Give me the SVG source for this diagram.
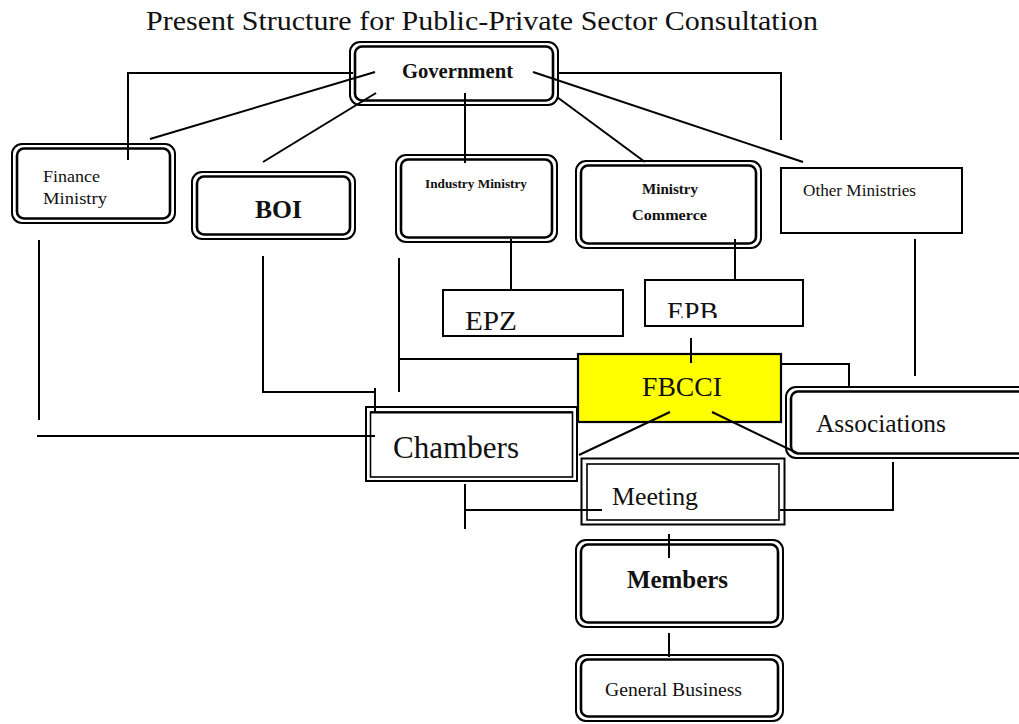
<svg xmlns="http://www.w3.org/2000/svg" width="1019" height="724" viewBox="0 0 1019 724">
<defs>
<style>
.bg{fill:#fff}
.o{fill:#fff;stroke:#000;stroke-width:2}
.i{fill:none;stroke:#000;stroke-width:2.6}
.thin{fill:none;stroke:#000;stroke-width:1.6}
.box{fill:#fff;stroke:#000;stroke-width:2}
.fb{fill:#ffff00;stroke:#000;stroke-width:2.2}
.c{fill:none;stroke:#000;stroke-width:2}
.t{font-family:"Liberation Serif","Times New Roman",serif;fill:#111}
.b{font-weight:bold}
</style>
<clipPath id="epbclip"><rect x="646" y="281" width="156" height="37"/></clipPath>
</defs>
<rect class="bg" x="0" y="0" width="1019" height="724"/>
<text class="t" x="146" y="30" font-size="27" textLength="672" lengthAdjust="spacingAndGlyphs">Present Structure for Public-Private Sector Consultation</text>

<g id="government">
<rect class="o" x="350" y="42" width="208" height="63" rx="10"/>
<rect class="i" x="355" y="46.5" width="198" height="54" rx="7"/>
<text class="t b" x="402" y="78" font-size="20" textLength="111" lengthAdjust="spacingAndGlyphs">Government</text>
</g>

<g id="finance-ministry">
<rect class="o" x="12" y="144" width="163" height="79" rx="10"/>
<rect class="i" x="17" y="148.5" width="153" height="70" rx="7"/>
<text class="t" x="43" y="182" font-size="17" textLength="57" lengthAdjust="spacingAndGlyphs">Finance</text>
<text class="t" x="43" y="204" font-size="17" textLength="64" lengthAdjust="spacingAndGlyphs">Ministry</text>
</g>

<g id="boi">
<rect class="o" x="192" y="172" width="163" height="67" rx="10"/>
<rect class="i" x="197" y="176.5" width="153" height="58" rx="7"/>
<text class="t b" x="255" y="218" font-size="25" textLength="47" lengthAdjust="spacingAndGlyphs">BOI</text>
</g>

<g id="industry-ministry">
<rect class="o" x="396" y="155" width="161" height="87" rx="10"/>
<rect class="i" x="401" y="159.5" width="151" height="78" rx="7"/>
<text class="t b" x="425" y="188" font-size="13" textLength="102" lengthAdjust="spacingAndGlyphs">Industry Ministry</text>
</g>

<g id="ministry-commerce">
<rect class="o" x="576" y="161" width="185" height="87" rx="10"/>
<rect class="i" x="581" y="165.5" width="175" height="78" rx="7"/>
<text class="t b" x="642" y="194" font-size="15" textLength="56" lengthAdjust="spacingAndGlyphs">Ministry</text>
<text class="t b" x="632" y="220" font-size="15.5" textLength="75" lengthAdjust="spacingAndGlyphs">Commerce</text>
</g>

<g id="other-ministries">
<rect class="box" x="781" y="168" width="181" height="65"/>
<text class="t" x="803" y="196" font-size="16" textLength="113" lengthAdjust="spacingAndGlyphs">Other Ministries</text>
</g>

<g id="epz">
<rect class="box" x="443" y="290" width="180" height="46"/>
<text class="t" x="465" y="330" font-size="27" textLength="52" lengthAdjust="spacingAndGlyphs">EPZ</text>
</g>

<g id="epb">
<rect class="box" x="645" y="280" width="158" height="46"/>
<text class="t" x="667" y="321" font-size="27" textLength="51" lengthAdjust="spacingAndGlyphs" clip-path="url(#epbclip)">EPB</text>
</g>

<g id="fbcci">
<rect class="fb" x="578" y="354" width="203" height="68"/>
<text class="t" x="642" y="396" font-size="28" textLength="80" lengthAdjust="spacingAndGlyphs">FBCCI</text>
</g>

<g id="chambers">
<rect class="o" x="366" y="407" width="211" height="74" stroke-width="1.6"/>
<rect class="thin" x="370.5" y="412" width="202" height="65"/>
<line class="c" x1="370.5" y1="412.5" x2="572.5" y2="412.5" stroke-width="3"/>
<text class="t" x="393" y="458" font-size="31" textLength="126" lengthAdjust="spacingAndGlyphs">Chambers</text>
</g>

<g id="associations">
<rect class="o" x="786" y="387" width="245" height="71" rx="10"/>
<rect class="i" x="791" y="391.5" width="235" height="62" rx="7"/>
<text class="t" x="816" y="432" font-size="25" textLength="130" lengthAdjust="spacingAndGlyphs">Associations</text>
</g>

<g id="meeting">
<rect class="o" x="581.5" y="458.5" width="203" height="66" stroke-width="3.2"/>
<rect class="thin" x="587" y="464" width="192" height="56"/>
<text class="t" x="612" y="505" font-size="25" textLength="86" lengthAdjust="spacingAndGlyphs">Meeting</text>
</g>

<g id="members">
<rect class="o" x="576" y="540" width="207" height="87" rx="10"/>
<rect class="i" x="581" y="544.5" width="197" height="78" rx="7"/>
<text class="t b" x="627" y="588" font-size="25" textLength="101" lengthAdjust="spacingAndGlyphs">Members</text>
</g>

<g id="general-business">
<rect class="o" x="576" y="655" width="207" height="66" rx="10"/>
<rect class="i" x="581" y="659.5" width="197" height="57" rx="7"/>
<text class="t" x="605" y="696" font-size="19.5" textLength="137" lengthAdjust="spacingAndGlyphs">General Business</text>
</g>

<g id="connectors">
<polyline class="c" points="353,73 128,73 128,160"/>
<line class="c" x1="375" y1="72" x2="150" y2="139"/>
<line class="c" x1="376" y1="93" x2="263" y2="162"/>
<line class="c" x1="465" y1="93" x2="465" y2="163"/>
<line class="c" x1="557" y1="97" x2="645" y2="162"/>
<line class="c" x1="533" y1="72" x2="803" y2="162"/>
<polyline class="c" points="557,73 781,73 781,140"/>
<line class="c" x1="39" y1="240" x2="39" y2="420"/>
<line class="c" x1="37" y1="436" x2="375" y2="436"/>
<polyline class="c" points="263,256 263,392 375,392"/>
<line class="c" x1="375" y1="388" x2="375" y2="412"/>
<line class="c" x1="399" y1="258" x2="399" y2="392"/>
<line class="c" x1="399" y1="359" x2="578" y2="359"/>
<line class="c" x1="511" y1="239" x2="511" y2="290"/>
<line class="c" x1="735" y1="239" x2="735" y2="280"/>
<line class="c" x1="691" y1="338" x2="691" y2="363"/>
<line class="c" x1="915" y1="239" x2="915" y2="376"/>
<polyline class="c" points="781,364 849,364 849,387"/>
<line class="c" x1="670" y1="412" x2="579" y2="455"/>
<line class="c" x1="712" y1="412" x2="797" y2="453"/>
<line class="c" x1="465" y1="484" x2="465" y2="529"/>
<line class="c" x1="465" y1="510" x2="602" y2="510"/>
<polyline class="c" points="893,462 893,510 780,510"/>
<line class="c" x1="669" y1="534" x2="669" y2="558"/>
<line class="c" x1="669" y1="633" x2="669" y2="657"/>
</g>
</svg>
